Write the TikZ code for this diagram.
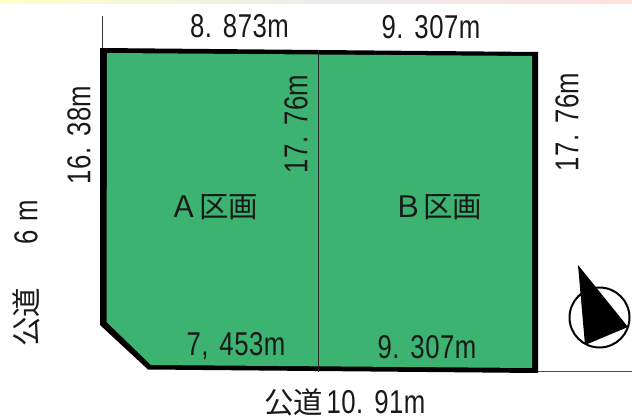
\documentclass[tikz,border=0pt]{standalone}
\usepackage{fontspec}
\newfontfamily\jpfont{Noto Sans CJK JP}
\newfontfamily\numfont[FakeStretch=0.78,LetterSpace=1.5]{Liberation Sans}
\definecolor{lotgreen}{HTML}{3CB371}
\tikzset{
  dim/.style={inner sep=0pt,text=black!90,font=\numfont\fontsize{33}{33}\selectfont},
  jp/.style={inner sep=0pt,text=black!90,font=\jpfont\fontsize{29.5}{30}\selectfont},
}
\newcommand{\pt}{.\hspace{.33em}}
\begin{document}
\begin{tikzpicture}[x=1pt,y=-1pt]
\useasboundingbox (0,0) rectangle (632,417);
% top photo strip
\fill[left color=yellow!22!white,right color=red!12!white,middle color=green!10!black!8!white] (0,0) rectangle (632,4);
% lot fill and outline
\fill[black] (100,48) -- (538,52) -- (538,373) -- (148,369.5) -- (100,325) -- cycle;
\fill[lotgreen] (107,53) -- (532,56) -- (532,368) -- (151,365) -- (106.5,322) -- cycle;
% divider and ticks
\draw[line width=1.5pt,black!85] (318.5,50) -- (318.5,372);
\draw[line width=1pt,black!80] (102,16) -- (102,48);
\draw[line width=.9pt,black!70] (538,371.5) -- (632,371.5);
% compass
\draw[line width=2pt,fill=white] (599.5,317.5) circle (30);
\fill[black] (578,265) -- (628,327) -- (585,345) -- cycle;
% labels
\node[dim] (t1) at (239.5,26) {8\pt 873m};
\node[dim] (t2) at (431,27) {9\pt 307m};
\node[dim,rotate=90] (l1) at (79,135) {16\pt 38m};
\node[dim,rotate=90] (l2) at (296,124) {17\pt 76m};
\node[dim,rotate=90] (l3) at (567,122) {17\pt 76m};
\node[dim] (b1) at (236,346) {7,\hspace{.33em}453m};
\node[dim] (b2) at (427,347) {9\pt 307m};
\node[jp] (a) at (214,207) {Ａ区画};
\node[jp] (b) at (438,207) {Ｂ区画};
\node[jp,rotate=90] (r1) at (26,317) {公道};
\node[dim,rotate=90] (r2) at (26,222) {6\hspace{.25em}m};
\node[jp,anchor=west] (r3) at (264,402) {公道};
\node[dim] (r4) at (376,402) {10\pt 91m};
\end{tikzpicture}
\end{document}
